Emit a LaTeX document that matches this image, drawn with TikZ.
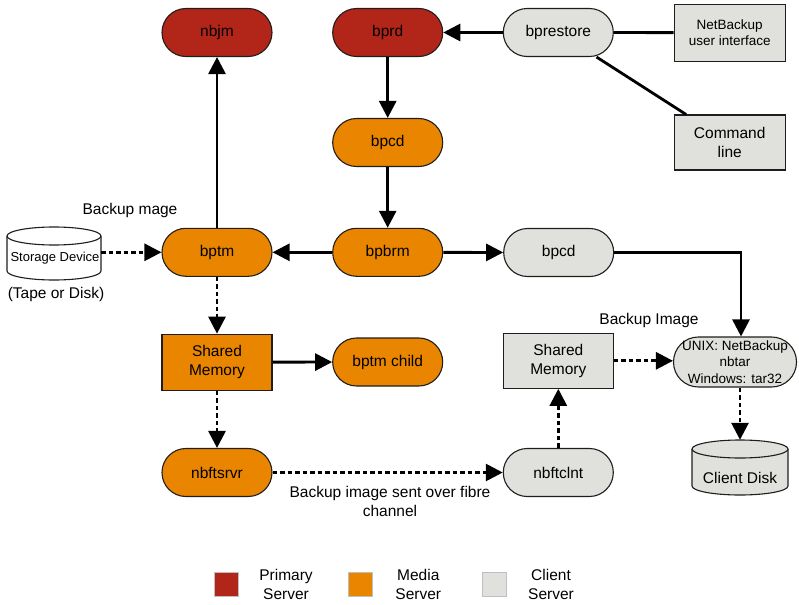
\documentclass[tikz,border=0pt]{standalone}
\usepackage{fontspec}
\setmainfont{Liberation Sans}
\usetikzlibrary{arrows.meta,calc}
\definecolor{prim}{HTML}{B22519}
\definecolor{media}{HTML}{EA8500}
\definecolor{cli}{HTML}{E0E0DC}
\definecolor{bord}{HTML}{1E1E1E}
\begin{document}
\begin{tikzpicture}[x=1pt,y=-1pt,
  every node/.style={font=\fontsize{15.5}{19}\selectfont, inner sep=0pt, align=center},
  pill/.style={rectangle, rounded corners=23.9pt, draw=bord, line width=1.1pt, minimum width=110pt, minimum height=48pt},
  box/.style={rectangle, draw=bord, line width=1.1pt, minimum width=110pt, minimum height=56pt},
  small/.style={font=\fontsize{13.5}{16.5}\selectfont},
  conn/.style={line width=2.8pt, -{Triangle[length=17pt,width=17pt]}},
  dconn/.style={conn, dash pattern=on 4.5pt off 3pt},
  plain/.style={line width=2.8pt},
  cyl/.style={draw=bord, line width=1.1pt},
  legsq/.style={rectangle, draw=black!25, line width=0.8pt, minimum size=24pt},
]
\useasboundingbox (0,0) rectangle (799,604);

% storage cylinder
\node[minimum width=94pt, minimum height=53pt] (storage) at (54,253.5) {};
\path[fill=white] (7,236) rectangle (101,271);
\path[fill=white] (54,271) ellipse[x radius=47pt, y radius=9pt];
\draw[cyl] (7,236) -- (7,271) arc[start angle=180, end angle=360, x radius=47pt, y radius=9pt] -- (101,236);
\draw[cyl, fill=white] (54,236) ellipse[x radius=47pt, y radius=9pt];
\node[font=\fontsize{13}{16}\selectfont] (storagelbl) at (55,258) {Storage Device};
\node (tape) at (56,294) {(Tape or Disk)};

% client disk cylinder
\node[minimum width=96pt, minimum height=55pt] (disk) at (740,467.5) {};
\path[fill=cli] (692,449) rectangle (788,486);
\path[fill=cli] (740,486) ellipse[x radius=48pt, y radius=9pt];
\draw[cyl] (692,449) -- (692,486) arc[start angle=180, end angle=360, x radius=48pt, y radius=9pt] -- (788,449);
\draw[cyl, fill=cli] (740,449) ellipse[x radius=48pt, y radius=9pt];
\node (disklbl) at (740,478) {Client Disk};

% nodes
\node[pill, fill=prim] (nbjm) at (217,32.5) {nbjm};
\node[pill, fill=prim] (bprd) at (387.7,32.5) {bprd};
\node[pill, fill=cli] (bprestore) at (558.3,32.5) {bprestore};
\node[box, fill=cli, small, minimum width=111pt, minimum height=57pt] (nbui) at (729.7,32.7) {NetBackup\\user interface};
\node[box, fill=cli, minimum width=111pt, minimum height=55pt] (cmd) at (729.7,142.5) {Command\\line};
\node[pill, fill=media] (bpcd1) at (387.7,142.5) {bpcd};
\node[pill, fill=media] (bptm) at (217,252.3) {bptm};
\node[pill, fill=media] (bpbrm) at (387.7,252.3) {bpbrm};
\node[pill, fill=cli] (bpcd2) at (558.7,252.5) {bpcd};
\node[box, fill=media] (shm1) at (217,362.2) {Shared\\Memory};
\node[pill, fill=media] (child) at (387.7,362) {bptm child};
\node[box, fill=cli, minimum height=55pt] (shm2) at (558.3,360.8) {Shared\\Memory};
\node[pill, fill=cli, small, rounded corners=24.9pt, minimum width=123pt, minimum height=50pt] (unix) at (735,362) {UNIX: NetBackup\\nbtar\\Windows: tar32};
\node[pill, fill=media] (nbftsrvr) at (217,472.5) {nbftsrvr};
\node[pill, fill=cli] (nbftclnt) at (558.3,472.5) {nbftclnt};

% labels
\node (lblA) at (130,210) {Backup mage};
\node (lblB) at (649,320) {Backup Image};
\node (lblC) at (390,501) {Backup image sent over fibre\\channel};

% connectors
\draw[conn] (bptm) -- (nbjm);
\draw[conn] (bprestore) -- (bprd);
\draw[conn] (bprd) -- (bpcd1);
\draw[conn] (bpcd1) -- (bpbrm);
\draw[conn] (bpbrm) -- (bptm);
\draw[conn] (bpbrm) -- (bpcd2);
\coordinate (turn) at (741,252.5);
\draw[conn] (bpcd2.east) -- (turn) -- (turn |- unix.north);
\draw[plain] (bprestore) -- (nbui);
\draw[plain] (bprestore) -- (cmd);
\draw[dconn] (storage.east |- bptm.west) -- (bptm.west);
\draw[dconn] (bptm) -- (shm1);
\draw[conn] (shm1) -- (child);
\draw[dconn] (shm1) -- (nbftsrvr);
\draw[dconn] (nbftsrvr) -- (nbftclnt);
\draw[dconn] (nbftclnt) -- (shm2);
\draw[dconn] (shm2.east) -- (shm2.east -| unix.west);
\draw[dconn] (unix.south -| disk.north) -- (disk.north);

% legend
\node[legsq, fill=prim] (legP) at (226,584.7) {};
\node (legPt) at (286,584) {Primary\\Server};
\node[legsq, fill=media] (legM) at (360,584.7) {};
\node (legMt) at (418.3,584) {Media\\Server};
\node[legsq, fill=cli] (legC) at (494.5,584.7) {};
\node (legCt) at (551,584) {Client\\Server};
\end{tikzpicture}
\end{document}
